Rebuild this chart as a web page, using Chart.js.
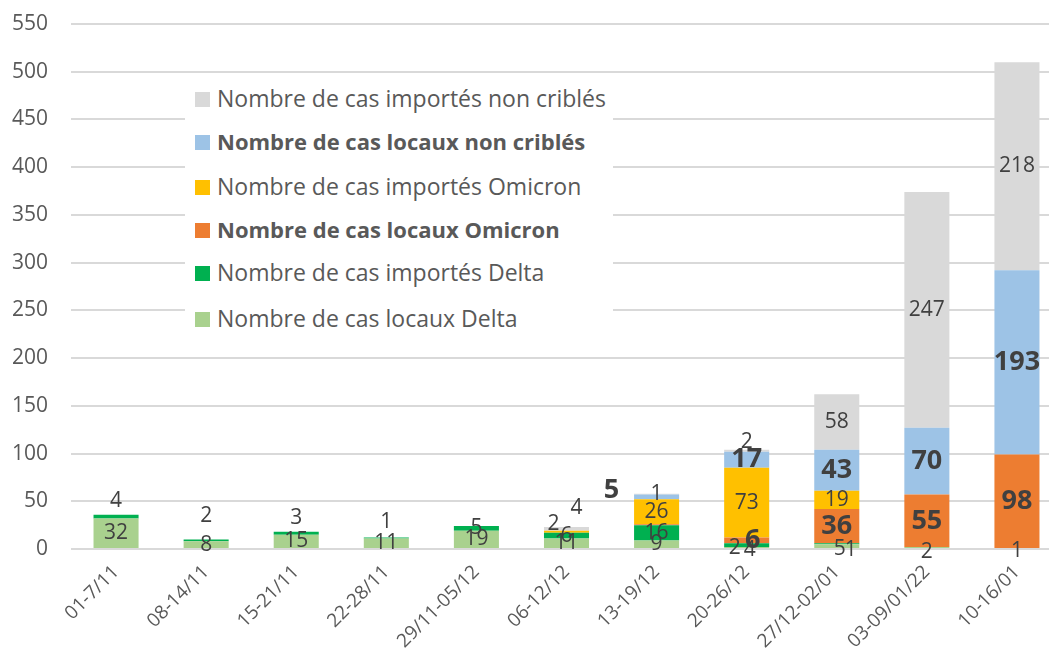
<!DOCTYPE html>
<html>
<head>
<meta charset="utf-8">
<script src="https://cdn.jsdelivr.net/npm/chart.js@4"></script>
<style>
  html, body { margin: 0; padding: 0; background: #fff; overflow: hidden; }
  #wrap { position: relative; width: 1062px; height: 653px; }
  #legend {
    position: absolute; left: 185px; top: 75px; width: 428px; height: 265px;
    background: #fff; font-family: "Open Sans", sans-serif; font-size: 23px; color: #595959;
  }
  #legend div { position: absolute; left: 10px; height: 30px; line-height: 30px; white-space: nowrap; }
  #legend div.bold { font-weight: bold; font-size: 22px; }
  #legend span.box { display: inline-block; width: 15px; height: 15px; margin-right: 7px; vertical-align: 0px; }
</style>
</head>
<body>
<div id="wrap">
  <canvas id="chart"></canvas>
  <div id="legend"></div>
</div>
<script>
const weeks = ['01-7/11', '08-14/11', '15-21/11', '22-28/11', '29/11-05/12', '06-12/12',
  '13-19/12', '20-26/12', '27/12-02/01', '03-09/01/22', '10-16/01'];

// bottom of the stack first
const locauxDelta        = [32, 8, 15, 11, 19, 11, 9, 2, 5, 2, 1];
const importesDelta      = [4, 2, 3, 1, 5, 6, 16, 4, 1, 0, 0];
const locauxOmicron      = [0, 0, 0, 0, 0, 0, 1, 6, 36, 55, 98];
const importesOmicron    = [0, 0, 0, 0, 0, 2, 26, 73, 19, 0, 0];
const locauxNonCribles   = [0, 0, 0, 0, 0, 0, 5, 17, 43, 70, 193];
const importesNonCribles = [0, 0, 0, 0, 0, 4, 1, 2, 58, 247, 218];

const seriesNames = ['Nombre de cas locaux Delta', 'Nombre de cas importés Delta',
  'Nombre de cas locaux Omicron', 'Nombre de cas importés Omicron',
  'Nombre de cas locaux non criblés', 'Nombre de cas importés non criblés'];
const seriesColors = ['#a9d18e', '#00b050', '#ed7d31', '#ffc000', '#9dc3e6', '#d9d9d9'];
const boldSeries = [2, 4];

// hand-moved labels, as in the original sheet: "dataset:index" -> [dx, dy]
const labelNudges = {
  '1:0': [0, -16], '1:1': [0, -24], '1:2': [0, -15], '1:3': [0, -16],
  '5:5': [10, -21], '3:5': [-13, -8],
  '4:6': [-45, -7],
  '5:7': [0, -9], '2:7': [6, 0], '0:7': [-12, 0], '1:7': [3, 5],
  '0:8': [3, 3], '1:8': [14, 6], '0:9': [0, 4], '0:10': [0, 3]
};
const hiddenLabels = ['2:6'];

const valueLabels = {
  id: 'valueLabels',
  afterDatasetsDraw(chart) {
    const ctx = chart.ctx;
    ctx.save();
    ctx.fillStyle = '#404040';
    ctx.textAlign = 'center';
    ctx.textBaseline = 'middle';
    chart.data.datasets.forEach((ds, di) => {
      chart.getDatasetMeta(di).data.forEach((bar, i) => {
        const v = ds.data[i];
        const key = di + ':' + i;
        if (!v || hiddenLabels.includes(key)) return;
        const nudge = labelNudges[key] || [0, 0];
        ctx.font = boldSeries.includes(di) ? 'bold 27px "Open Sans"' : '21px "Open Sans"';
        ctx.fillText(v, bar.x + nudge[0], (bar.y + bar.base) / 2 + nudge[1]);
      });
    });
    ctx.restore();
  }
};

const allData = [locauxDelta, importesDelta, locauxOmicron, importesOmicron, locauxNonCribles, importesNonCribles];

new Chart(document.getElementById('chart'), {
  type: 'bar',
  data: {
    labels: weeks,
    datasets: allData.map((d, i) => ({
      label: seriesNames[i],
      data: d,
      backgroundColor: seriesColors[i],
      borderWidth: 0,
      barPercentage: 0.5,
      categoryPercentage: 1
    }))
  },
  options: {
    responsive: true,
    maintainAspectRatio: false,
    animation: false,
    layout: { padding: { top: 24, left: 0, right: 0, bottom: 0 } },
    plugins: { legend: { display: false }, tooltip: { enabled: false } },
    scales: {
      x: {
        stacked: true,
        grid: { display: false },
        border: { display: false },
        ticks: {
          color: '#595959',
          font: { family: 'Open Sans', size: 19 },
          minRotation: 45, maxRotation: 45,
          padding: 4
        },
        afterFit: scale => {
          scale.height = 104;
          scale.paddingTop = 0; scale.paddingLeft = 0; scale.paddingRight = 0; scale.paddingBottom = 0;
        }
      },
      y: {
        stacked: true,
        min: 0, max: 550,
        grid: { color: '#d9d9d9', lineWidth: 2, drawTicks: false },
        border: { display: false },
        ticks: {
          stepSize: 50,
          color: '#595959',
          font: { family: 'Open Sans', size: 21 },
          padding: 23
        },
        afterFit: scale => {
          scale.width = 71;
          scale.paddingTop = 0; scale.paddingBottom = 0;
        }
      }
    }
  },
  plugins: [valueLabels]
});

// legend, top entry = top of the stack
const legend = document.getElementById('legend');
const rowTops = [8, 51, 96, 139, 182, 228];
for (let k = 0; k < seriesNames.length; k++) {
  const si = seriesNames.length - 1 - k;
  const row = document.createElement('div');
  row.style.top = rowTops[k] + 'px';
  if (boldSeries.includes(si)) row.className = 'bold';
  const box = document.createElement('span');
  box.className = 'box';
  box.style.background = seriesColors[si];
  row.appendChild(box);
  row.appendChild(document.createTextNode(seriesNames[si]));
  legend.appendChild(row);
}
</script>
</body>
</html>
